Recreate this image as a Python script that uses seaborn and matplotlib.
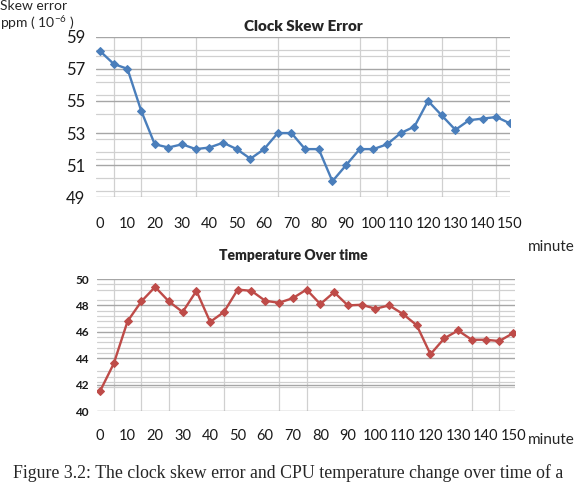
"""
Clock skew error and CPU temperature over time (two stacked line charts).
"""

import matplotlib
matplotlib.use('Agg')
import matplotlib.pyplot as plt
import seaborn as sns
import pandas as pd

# ── data ──
minutes = list(range(0, 155, 5))
skew_error = [58.1, 57.3, 57.0, 54.4, 52.3, 52.1, 52.3, 52.0, 52.1, 52.4,
              52.0, 51.4, 52.0, 53.0, 53.0, 52.0, 52.0, 50.0, 51.0, 52.0,
              52.0, 52.3, 53.0, 53.4, 55.0, 54.1, 53.2, 53.8, 53.9, 54.0, 53.6]
temperature = [41.5, 43.6, 46.8, 48.3, 49.4, 48.3, 47.5, 49.1, 46.75, 47.5,
               49.2, 49.1, 48.35, 48.2, 48.55, 49.2, 48.1, 49.0, 48.0, 48.05,
               47.75, 48.0, 47.35, 46.5, 44.3, 45.5, 46.1, 45.4, 45.4, 45.3, 45.9]
x_ticks = list(range(0, 151, 10))
skew_ticks = [49, 51, 53, 55, 57, 59]
temp_ticks = [40, 42, 44, 46, 48, 50]

df = pd.DataFrame({'minute': minutes, 'skew': skew_error, 'temp': temperature})

sns.set_style('white')
plt.rcParams['font.family'] = ['Lato', 'DejaVu Sans']

fig = plt.figure(figsize=(5.76, 4.92), dpi=100)
fig.patch.set_facecolor('white')

MAJOR = '#a6a6a6'
MINOR = '#d0d0d0'


def style_axes(ax, vgrid, hminor):
    ax.set_xticks(x_ticks)
    ax.set_xticks(vgrid, minor=True)
    ax.set_yticks(hminor, minor=True)
    ax.grid(False)
    ax.grid(which='minor', axis='x', color=MINOR, linewidth=0.9)
    ax.grid(which='minor', axis='y', color=MINOR, linewidth=0.9)
    ax.grid(which='major', axis='y', color=MAJOR, linewidth=1.0)
    ax.tick_params(which='both', length=0)
    ax.set_axisbelow(True)
    for s in ax.spines.values():
        s.set_visible(False)
    ax.set_xlabel('')
    ax.set_ylabel('')


# ── 1. Clock skew error ──
ax1 = fig.add_axes([0.1667, 0.599, 0.7188, 0.3264])
sns.lineplot(data=df, x='minute', y='skew', ax=ax1, color='#4a7ebb',
             marker='D', markersize=4, markeredgecolor='#4a7ebb', linewidth=1.7)
ax1.set_xlim(-1.5, 150)
ax1.set_ylim(49, 59)
ax1.set_yticks(skew_ticks)
style_axes(ax1,
           [5, 10, 15, 20, 35, 50, 60, 65, 80, 95, 100, 105, 110, 120, 125, 140, 145, 150],
           [49.4, 50.2, 51.4, 51.8, 52.6, 54.2, 55.4, 56.2, 56.6, 57.8, 58.2])
ax1.tick_params(axis='y', labelsize=12, pad=8, colors='#1a1a1a')
ax1.tick_params(axis='x', labelsize=10.5, pad=14, colors='#1a1a1a')
ax1.set_title('Clock Skew Error', fontsize=11, fontweight='heavy', pad=4)

# ── 2. Temperature ──
ax2 = fig.add_axes([0.1684, 0.1646, 0.7257, 0.2683])
sns.lineplot(data=df, x='minute', y='temp', ax=ax2, color='#be4b48',
             marker='D', markersize=4, markeredgecolor='#be4b48', linewidth=1.7)
ax2.set_xlim(-1.1, 150.7)
ax2.set_ylim(40, 50)
ax2.set_yticks(temp_ticks)
style_axes(ax2,
           [5, 15, 20, 25, 30, 45, 65, 75, 95, 120, 130, 135, 145, 150],
           [41.8, 42.2, 42.6, 43.0, 44.4, 44.8, 45.2, 45.6, 46.4, 46.8,
            47.2, 47.6, 48.4, 49.2, 49.6])
ax2.tick_params(axis='y', labelsize=8.5, pad=6, colors='#1a1a1a')
for lbl in ax2.get_yticklabels():
    lbl.set_fontweight('bold')
ax2.tick_params(axis='x', labelsize=10.5, pad=13, colors='#1a1a1a')
ax2.set_title('Temperature Over time', fontsize=10, fontweight='heavy', pad=14,
              x=0.47)

# ── annotations ──
fig.text(0.0, 1.0, 'Skew error\n' + r'ppm ( 10$^{\mathregular{-6}}$ )',
         fontsize=10, va='top', ha='left', linespacing=1.1)
fig.text(0.917, 0.498, 'minute', fontsize=11, va='center', ha='left')
fig.text(0.917, 0.105, 'minute', fontsize=11, va='center', ha='left')
fig.text(0.5, 0.038, 'Figure 3.2: The clock skew error and CPU temperature change over time of a',
         fontsize=12.8, ha='center', va='center', family=['Liberation Serif', 'DejaVu Serif'])

plt.savefig('out.png', dpi=100, facecolor='white')
plt.close()
